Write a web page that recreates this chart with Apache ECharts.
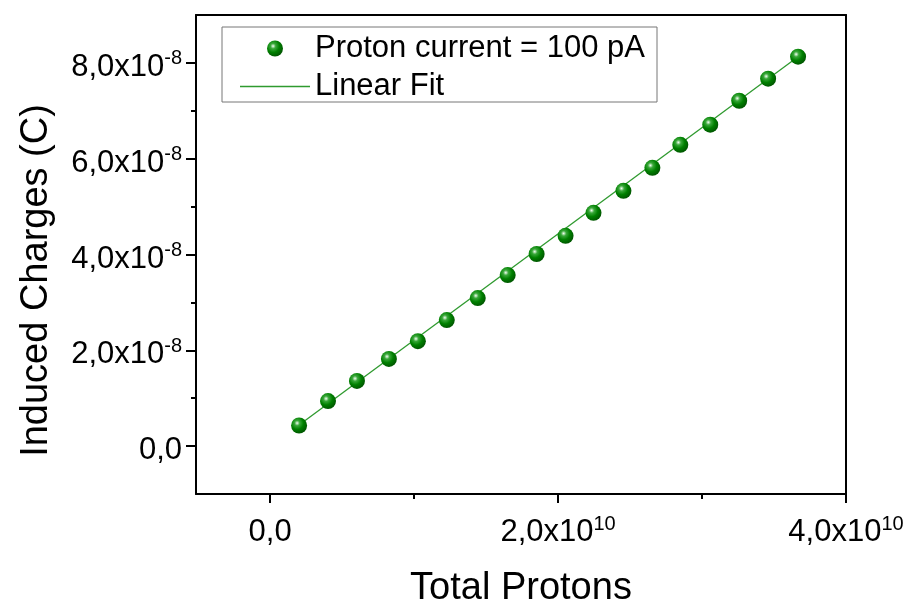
<!DOCTYPE html>
<html>
<head>
<meta charset="utf-8">
<script src="https://cdn.jsdelivr.net/npm/echarts@6/dist/echarts.min.js"></script>
<style>html,body{margin:0;padding:0;background:#fff}#c{width:908px;height:606px}</style>
</head>
<body>
<div id="c"></div>
<script>
// Data (x in protons, y in coulombs)
const totalProtons = [0.201e10, 0.402e10, 0.603e10, 0.825e10, 1.026e10, 1.227e10, 1.442e10, 1.650e10, 1.851e10, 2.052e10, 2.246e10, 2.454e10, 2.655e10, 2.849e10, 3.057e10, 3.258e10, 3.459e10, 3.667e10];
const inducedCharges = [0.43e-8, 0.94e-8, 1.36e-8, 1.82e-8, 2.19e-8, 2.63e-8, 3.09e-8, 3.57e-8, 4.01e-8, 4.39e-8, 4.87e-8, 5.33e-8, 5.81e-8, 6.29e-8, 6.71e-8, 7.21e-8, 7.67e-8, 8.13e-8];
const fitX = [0.201e10, 3.667e10];
const fitY = [0.44e-8, 8.13e-8];
const seriesNames = ['Proton current = 100 pA', 'Linear Fit'];
const xMajorTicks = [0, 2e10, 4e10];
const xMinorTicks = [1e10, 3e10];
const xTickLabels = ['0,0', '2,0x10|10', '4,0x10|10'];
const yMajorTicks = [0, 2e-8, 4e-8, 6e-8, 8e-8];
const yMinorTicks = [1e-8, 3e-8, 5e-8, 7e-8];
const yTickLabels = ['0,0', '2,0x10|-8', '4,0x10|-8', '6,0x10|-8', '8,0x10|-8'];
const xRange = [-0.515e10, 4e10];
const yRange = [-1e-8, 9e-8];

const FONT = '"Liberation Sans", Arial, sans-serif';
const sphere = {
  type: 'radial', x: 0.38, y: 0.35, r: 0.65,
  colorStops: [
    {offset: 0, color: '#f4fff4'},
    {offset: 0.25, color: '#3aa83a'},
    {offset: 0.6, color: '#008000'},
    {offset: 1, color: '#005800'}
  ]
};

function fmt(values, labels) {
  return function (v) {
    let idx = -1;
    values.forEach((t, i) => { if (Math.abs(t - v) <= Math.abs(t) * 1e-6 + 1e-30) idx = i; });
    if (idx < 0) return '';
    const p = labels[idx].split('|');
    return p.length > 1 ? '{b|' + p[0] + '}{s|' + p[1] + '}' : '{b|' + p[0] + '}';
  };
}
const richLabel = {
  b: {fontSize: 31, fontFamily: FONT, color: '#000', verticalAlign: 'bottom', lineHeight: 34},
  s: {fontSize: 20, fontFamily: FONT, color: '#000', verticalAlign: 'top', lineHeight: 34}
};
const axisLineStyle = {color: '#000', width: 2};

const chart = echarts.init(document.getElementById('c'));
chart.setOption({
  animation: false,
  backgroundColor: '#fff',
  grid: {left: 196, right: 62, top: 15, bottom: 112, containLabel: false, outerBoundsMode: 'none'},
  legend: {
    orient: 'vertical', left: 222, top: 27,
    padding: [6, 12, 0, 18],
    itemGap: 7,
    itemWidth: 70, itemHeight: 16,
    borderColor: '#777', borderWidth: 1,
    textStyle: {fontSize: 31, fontFamily: FONT, color: '#000'},
    data: [
      {name: seriesNames[0]},
      {name: seriesNames[1], icon: 'path://M0,0 H70 V1.3 H0 Z'}
    ]
  },
  xAxis: [{
    type: 'value', position: 'bottom', min: xRange[0], max: xRange[1],
    name: 'Total Protons', nameLocation: 'middle', nameGap: 76,
    nameTextStyle: {fontSize: 38, fontFamily: FONT, color: '#000'},
    axisLine: {show: true, onZero: false, lineStyle: axisLineStyle},
    axisTick: {show: true, inside: false, length: 9, lineStyle: axisLineStyle, customValues: xMajorTicks},
    axisLabel: {show: true, margin: 20, formatter: fmt(xMajorTicks, xTickLabels), rich: richLabel, customValues: xMajorTicks},
    splitLine: {show: false}
  }, {
    type: 'value', position: 'bottom', min: xRange[0], max: xRange[1],
    axisLine: {show: false, onZero: false},
    axisTick: {show: true, inside: false, length: 5, lineStyle: axisLineStyle, customValues: xMinorTicks},
    axisLabel: {show: false}, splitLine: {show: false}
  }, {
    type: 'value', position: 'top', min: xRange[0], max: xRange[1],
    axisLine: {show: true, onZero: false, lineStyle: axisLineStyle},
    axisTick: {show: false}, axisLabel: {show: false}, splitLine: {show: false}
  }],
  yAxis: [{
    type: 'value', position: 'left', min: yRange[0], max: yRange[1], interval: 1e-8,
    name: 'Induced Charges (C)', nameLocation: 'middle', nameGap: 140, nameRotate: 90,
    nameTextStyle: {fontSize: 38, fontFamily: FONT, color: '#000', padding: [0, 52, 0, 0]},
    axisLine: {show: true, onZero: false, lineStyle: axisLineStyle},
    axisTick: {show: true, inside: false, length: 10, lineStyle: axisLineStyle, customValues: yMajorTicks},
    axisLabel: {show: true, margin: 14, padding: [6, 0, 0, 0], formatter: fmt(yMajorTicks, yTickLabels), rich: richLabel, customValues: yMajorTicks},
    splitLine: {show: false}
  }, {
    type: 'value', position: 'left', min: yRange[0], max: yRange[1], interval: 1e-8,
    axisLine: {show: false, onZero: false},
    axisTick: {show: true, inside: false, length: 5, lineStyle: axisLineStyle, customValues: yMinorTicks},
    axisLabel: {show: false}, splitLine: {show: false}
  }, {
    type: 'value', position: 'right', min: yRange[0], max: yRange[1], interval: 1e-8,
    axisLine: {show: true, onZero: false, lineStyle: axisLineStyle},
    axisTick: {show: false}, axisLabel: {show: false}, splitLine: {show: false}
  }],
  series: [{
    name: seriesNames[1], type: 'line', xAxisIndex: 0, yAxisIndex: 0,
    data: fitX.map((x, i) => [x, fitY[i]]),
    symbol: 'none', showSymbol: false,
    lineStyle: {color: '#2f9a2f', width: 1.3},
    itemStyle: {color: '#2f9a2f'},
    z: 2
  }, {
    name: seriesNames[0], type: 'scatter', xAxisIndex: 0, yAxisIndex: 0,
    data: totalProtons.map((x, i) => [x, inducedCharges[i]]),
    symbol: 'circle', symbolSize: 16,
    itemStyle: {color: sphere, opacity: 1},
    z: 3
  }]
});
</script>
</body>
</html>
